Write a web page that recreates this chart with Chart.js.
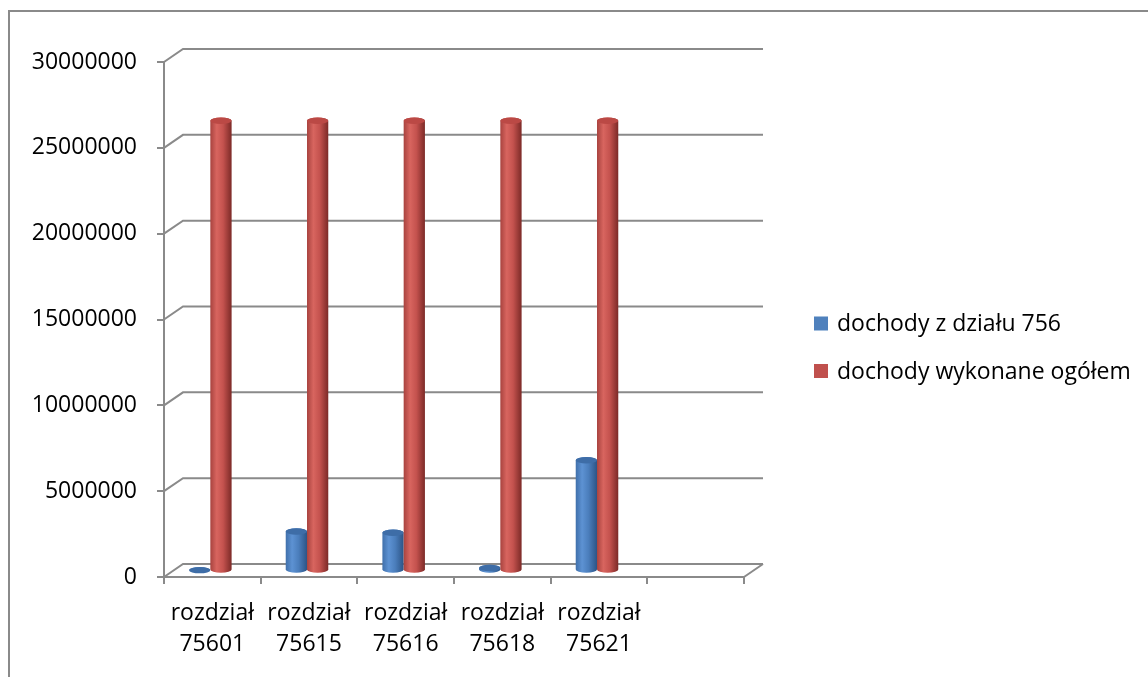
<!DOCTYPE html>
<html>
<head>
<meta charset="utf-8">
<script src="https://cdn.jsdelivr.net/npm/chart.js@4"></script>
<style>
  html, body { margin: 0; padding: 0; background: #fff; }
  canvas { display: block; }
</style>
</head>
<body>
<canvas id="chart" width="1148" height="677"></canvas>
<script>
// Budget chapters of section 756 (the last slot is an empty category)
const chapters = ['75601', '75615', '75616', '75618', '75621', ''];
const chapterWord = 'rozdział';

// Series
const seriesNames = ['dochody z działu 756', 'dochody wykonane ogółem'];
const incomeSection756 = [20000, 2270000, 2200000, 150000, 6420000, null];
const incomeTotal = [26200000, 26200000, 26200000, 26200000, 26200000, null];

// Value axis ticks
const yTickValues = [0, 5000000, 10000000, 15000000, 20000000, 25000000, 30000000];

// Styling
const FONT = '"Open Sans", "Noto Sans", sans-serif';
const GRID = '#8a8a8a';
const seriesColors = ['#4F81BD', '#C0504D'];
const cylinderPalettes = [
  { edge: '#4070ab', light: '#5d92d3', mid: '#4b7ebc', dark: '#2c5486', cap: '#3e6da7' },
  { edge: '#a8433f', light: '#d8655f', mid: '#c4524e', dark: '#7c2a27', cap: '#bb4945' }
];
const DEPTH = { x: 19, y: 13 };        // back wall offset of the 3D frame
const BAR_SHIFT = { x: -2, y: -6.5 };  // bars stand half way into the floor

function drawCylinder(ctx, cx, top, base, w, p) {
  const left = cx - w / 2, right = cx + w / 2, ry = w * 0.15;
  const g = ctx.createLinearGradient(left, 0, right, 0);
  g.addColorStop(0, p.edge);
  g.addColorStop(0.3, p.light);
  g.addColorStop(0.6, p.mid);
  g.addColorStop(1, p.dark);
  ctx.fillStyle = g;
  ctx.beginPath();
  ctx.moveTo(left, top);
  ctx.lineTo(left, base);
  ctx.ellipse(cx, base, w / 2, ry, 0, Math.PI, 0, true);
  ctx.lineTo(right, top);
  ctx.ellipse(cx, top, w / 2, ry, 0, 0, Math.PI, true);
  ctx.closePath();
  ctx.fill();
  ctx.fillStyle = p.cap;
  ctx.beginPath();
  ctx.ellipse(cx, top, w / 2, ry, 0, 0, Math.PI * 2);
  ctx.fill();
}

const frame3d = {
  id: 'frame3d',
  beforeDraw(chart) {
    const { ctx, chartArea: a, scales: { y } } = chart;
    ctx.save();
    ctx.fillStyle = '#fff';
    ctx.fillRect(0, 0, chart.width, chart.height);
    // outer chart frame
    ctx.strokeStyle = GRID;
    ctx.lineWidth = 2;
    ctx.strokeRect(9, 11, chart.width + 40, chart.height + 40);
    // back wall gridlines with their diagonal side-wall segments
    y.ticks.forEach(t => {
      const py = y.getPixelForValue(t.value);
      ctx.beginPath();
      ctx.moveTo(a.left, py);
      ctx.lineTo(a.left + DEPTH.x, py - DEPTH.y);
      ctx.lineTo(a.right + DEPTH.x, py - DEPTH.y);
      ctx.stroke();
    });
    // right edge of the floor
    ctx.beginPath();
    ctx.moveTo(a.right, a.bottom);
    ctx.lineTo(a.right + DEPTH.x, a.bottom - DEPTH.y);
    ctx.stroke();
    ctx.restore();
  },
  beforeDatasetsDraw(chart) {
    const ctx = chart.ctx;
    ctx.save();
    ctx.translate(BAR_SHIFT.x, BAR_SHIFT.y);
    chart.data.datasets.forEach((ds, i) => {
      const meta = chart.getDatasetMeta(i);
      meta.data.forEach((el, j) => {
        if (ds.data[j] === null) return;
        const { x, y, base, width } = el.getProps(['x', 'y', 'base', 'width'], true);
        drawCylinder(ctx, x, y, base, width, cylinderPalettes[i]);
      });
    });
    ctx.restore();
    return false;
  },
  afterDraw(chart) {
    const ctx = chart.ctx;
    const lx = 814, ly = 323.5, gap = 47.5, sq = 14;
    ctx.save();
    ctx.font = '23px ' + FONT;
    ctx.textBaseline = 'middle';
    ctx.textAlign = 'left';
    chart.data.datasets.forEach((ds, i) => {
      const cy = ly + i * gap;
      ctx.fillStyle = ds.backgroundColor;
      ctx.fillRect(lx, cy - sq / 2, sq, sq);
      ctx.fillStyle = '#000';
      ctx.fillText(ds.label, lx + sq + 9, cy + 1);
    });
    ctx.restore();
  }
};

new Chart(document.getElementById('chart'), {
  type: 'bar',
  data: {
    labels: chapters.map(c => c ? [chapterWord, c] : ''),
    datasets: [
      { label: seriesNames[0], data: incomeSection756, backgroundColor: seriesColors[0] },
      { label: seriesNames[1], data: incomeTotal, backgroundColor: seriesColors[1] }
    ]
  },
  options: {
    responsive: false,
    animation: false,
    layout: { padding: { left: 0, top: 62, right: 404, bottom: 0 } },
    datasets: { bar: { categoryPercentage: 0.44, barPercentage: 1 } },
    plugins: { legend: { display: false }, tooltip: { enabled: false } },
    scales: {
      x: {
        grid: { display: true, drawOnChartArea: false, drawTicks: true, tickLength: 7, color: GRID, lineWidth: 2, offset: true },
        border: { display: true, color: GRID, width: 2 },
        ticks: { color: '#000', font: { family: FONT, size: 23, lineHeight: 1.36 }, padding: 14, maxRotation: 0, autoSkip: false },
        afterFit: s => { s.height = 100; }
      },
      y: {
        min: 0,
        max: 30000000,
        grid: { display: true, drawOnChartArea: false, drawTicks: true, tickLength: 7, color: GRID, lineWidth: 2 },
        border: { display: true, color: GRID, width: 2 },
        ticks: { color: '#000', font: { family: FONT, size: 23 }, padding: 20, callback: v => String(v) },
        afterBuildTicks: s => { s.ticks = yTickValues.map(v => ({ value: v })); },
        afterFit: s => { s.width = 164; }
      }
    }
  },
  plugins: [frame3d]
});
</script>
</body>
</html>
